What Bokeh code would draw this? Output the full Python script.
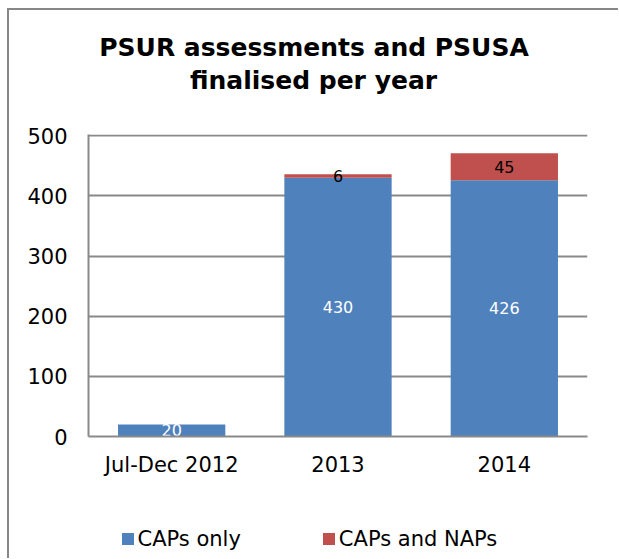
from bokeh.plotting import figure
from bokeh.layouts import column
from bokeh.models import (ColumnDataSource, FactorRange, Range1d, FixedTicker,
                          Title, Legend, LegendItem)
from bokeh.embed import file_html
from bokeh.resources import INLINE
from bokeh.core.properties import value

# ---- data ----
categories = ["Jul-Dec 2012", "2013", "2014"]
caps_only = [20, 430, 426]
caps_and_naps = [0, 6, 45]
series_names = ["CAPs only", "CAPs and NAPs"]
y_ticks = [0, 100, 200, 300, 400, 500]
title_lines = ["PSUR assessments and PSUSA", "finalised per year"]

BLUE = "#4F81BD"
RED = "#C0504D"
GRAY = "#898989"
FONT = "DejaVu Sans"
COLORS = [BLUE, RED]

src = ColumnDataSource(dict(cat=categories, caps=caps_only, naps=caps_and_naps))

p = figure(x_range=FactorRange(factors=categories, range_padding=0),
           y_range=Range1d(0, 502),
           width=609, height=476,
           output_backend="svg", toolbar_location=None,
           min_border_left=79, min_border_right=31,
           min_border_top=124, min_border_bottom=50)
p.outline_line_color = None
p.background_fill_color = "white"
p.border_fill_color = "white"

rs = p.vbar_stack(["caps", "naps"], x="cat", width=0.645, color=COLORS,
                  line_color=None, source=src)

# data labels
blue_lbl = ColumnDataSource(dict(cat=categories,
                                 y=[v / 2 for v in caps_only],
                                 t=[str(v) for v in caps_only]))
p.text(x="cat", y="y", text="t", source=blue_lbl, text_color="white",
       text_font=value(FONT), text_font_size="16px",
       text_align="center", text_baseline="middle")
red_cats, red_y, red_t = [], [], []
for c, a, b in zip(categories, caps_only, caps_and_naps):
    if b > 0:
        red_cats.append(c)
        red_y.append(a + b / 2)
        red_t.append(str(b))
red_lbl = ColumnDataSource(dict(cat=red_cats, y=red_y, t=red_t))
p.text(x="cat", y="y", text="t", source=red_lbl, text_color="black",
       text_font=value(FONT), text_font_size="16px",
       text_align="center", text_baseline="middle")

# axes
p.yaxis.ticker = FixedTicker(ticks=y_ticks)
p.ygrid.ticker = FixedTicker(ticks=y_ticks)
p.ygrid.grid_line_color = GRAY
p.ygrid.grid_line_width = 2
p.xgrid.grid_line_color = None

for ax in (p.xaxis[0], p.yaxis[0]):
    ax.axis_line_color = GRAY
    ax.axis_line_width = 2
    ax.major_tick_line_color = None
    ax.minor_tick_line_color = None
    ax.major_label_text_font = FONT
    ax.major_label_text_font_size = "21px"
    ax.major_label_text_color = "black"
p.yaxis.major_label_standoff = 15
p.xaxis.major_label_standoff = 10

# title: two lines (p.title is outermost)
p.title.text = title_lines[0]
p.title.align = "left"
p.title.offset = 10.75
p.title.standoff = 2
p.title.text_font = FONT
p.title.text_font_size = "25px"
p.title.text_font_style = "bold"
p.title.text_color = "black"
spacer = Title(text=" ", standoff=26, text_font=FONT, text_font_size="10px")
p.add_layout(spacer, "above")
t2 = Title(text=title_lines[1], align="left", offset=101.5, standoff=2,
           text_font=FONT, text_font_size="25px", text_font_style="bold",
           text_color="black")
p.add_layout(t2, "above")

# legend strip (its frame is aligned with the main frame by the column)
lf = figure(width=609, height=72, output_backend="svg", toolbar_location=None,
            x_axis_type=None, y_axis_type=None, min_border=0,
            x_range=Range1d(0, 1), y_range=Range1d(0, 1))
lf.outline_line_color = None
lf.grid.visible = False
swatches = [lf.vbar(x=[0.5], top=[0], width=0.01, color=c, line_color=None)
            for c in COLORS]
lg = Legend(items=[LegendItem(label=n, renderers=[r]) for n, r in zip(series_names, swatches)])
lg.location = (31.5, 7.5)
lg.orientation = "horizontal"
lg.glyph_width = 15
lg.glyph_height = 15
lg.label_standoff = 3
lg.spacing = 80
lg.padding = 0
lg.margin = 0
lg.border_line_color = None
lg.background_fill_alpha = 0
lg.label_text_font = FONT
lg.label_text_font_size = "21px"
lg.label_text_color = "black"
lg.click_policy = "none"
lf.add_layout(lg, "center")

layout = column(p, lf, spacing=0)
layout.styles = {"margin-left": "7px", "margin-top": "8px",
                 "border-left": "2px solid #878787", "border-top": "2px solid #878787"}

open("out.html", "w").write(file_html(layout, INLINE))
